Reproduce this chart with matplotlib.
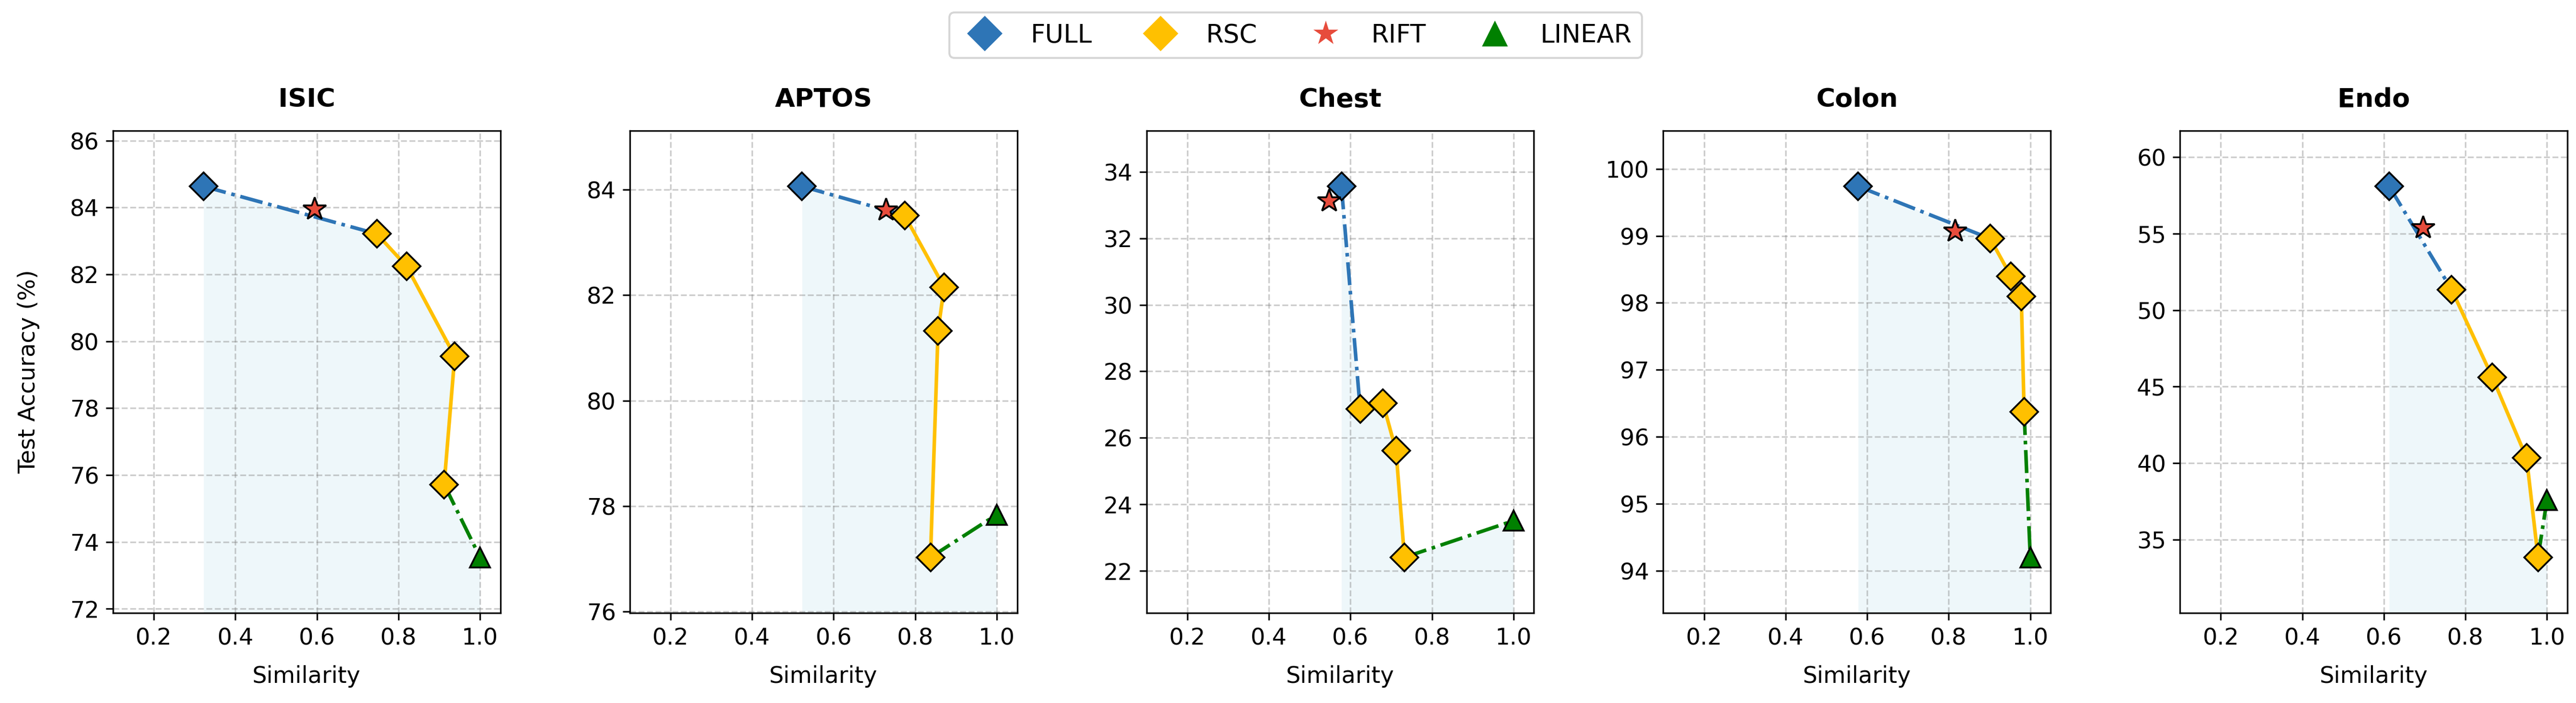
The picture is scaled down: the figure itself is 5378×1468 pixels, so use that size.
import matplotlib
matplotlib.use("Agg")
import matplotlib.pyplot as plt
from matplotlib.lines import Line2D

# values
datasets = ['ISIC', 'APTOS', 'Chest', 'Colon', 'Endo']

full_sim = [0.322, 0.5225, 0.578, 0.578, 0.613]
full_acc = [84.63, 84.06, 33.56, 99.74, 58.09]

rift_sim = [0.595, 0.729, 0.548, 0.816, 0.696]
rift_acc = [83.94, 83.61, 33.11, 99.07, 55.38]

rsc_sim = [[0.747, 0.820, 0.938, 0.912],
           [0.774, 0.871, 0.856, 0.8375],
           [0.624, 0.680, 0.712, 0.7325],
           [0.9017, 0.9525, 0.978, 0.985],
           [0.766, 0.866, 0.950, 0.978]]
rsc_acc = [[83.21, 82.24, 79.55, 75.72],
           [83.51, 82.15, 81.32, 77.03],
           [26.87, 27.04, 25.61, 22.41],
           [98.96, 98.40, 98.10, 96.37],
           [51.35, 45.62, 40.34, 33.85]]

linear_sim = [1.0, 1.0, 1.0, 1.0, 1.0]
linear_acc = [73.54, 77.84, 23.51, 94.20, 37.61]

c_full = '#2E75B6'
c_rsc = '#FFC000'
c_rift = '#E74C3C'
c_lin = 'green'

fig = plt.figure(figsize=(5378 / 300, 1468 / 300), dpi=300)
axes = fig.subplots(1, 5)
fig.subplots_adjust(left=236 / 5378, right=5360 / 5378,
                    bottom=1 - 1280 / 1468, top=1 - 273 / 1468, wspace=0.334)

for i, ax in enumerate(axes):
    xs = [full_sim[i]] + rsc_sim[i] + [linear_sim[i]]
    ys = [full_acc[i]] + rsc_acc[i] + [linear_acc[i]]
    all_y = ys + [rift_acc[i]]
    rng = max(all_y) - min(all_y)
    lo, hi = min(all_y) - 0.15 * rng, max(all_y) + 0.15 * rng

    ax.fill_between(xs, ys, lo, color='lightblue', alpha=0.2, linewidth=0, zorder=1)

    # connecting lines
    ax.plot([full_sim[i], rsc_sim[i][0]], [full_acc[i], rsc_acc[i][0]],
            '-.', color=c_full, lw=1.8, zorder=2)
    ax.plot(rsc_sim[i], rsc_acc[i], '-', color=c_rsc, lw=1.8, zorder=2)
    ax.plot([rsc_sim[i][-1], linear_sim[i]], [rsc_acc[i][-1], linear_acc[i]],
            '-.', color=c_lin, lw=1.8, zorder=2)

    # markers
    ax.plot(full_sim[i], full_acc[i], 'D', color=c_full, ms=10,
            mec='black', mew=0.9, zorder=3)
    ax.plot(rift_sim[i], rift_acc[i], '*', color=c_rift, ms=12,
            mec='black', mew=0.9, zorder=4)
    ax.plot(rsc_sim[i], rsc_acc[i], 'D', color=c_rsc, ms=10, ls='none',
            mec='black', mew=0.9, zorder=5)
    ax.plot(linear_sim[i], linear_acc[i], '^', color=c_lin, ms=10,
            mec='black', mew=0.9, zorder=5)

    ax.set_xlim(0.1, 1.05)
    ax.set_ylim(lo, hi)
    ax.set_xticks([0.2, 0.4, 0.6, 0.8, 1.0])
    ax.tick_params(labelsize=11.5)
    ax.grid(True, linestyle='--', color='gray', alpha=0.4, lw=0.8)
    ax.set_title(datasets[i], fontsize=13, fontweight='bold', pad=12)
    ax.set_xlabel('Similarity', fontsize=11.5, labelpad=8)
    if i == 0:
        ax.set_ylabel('Test Accuracy (%)', fontsize=11.5, labelpad=15)

handles = [
    Line2D([], [], marker='D', color=c_full, ls='none', ms=12.5, mec='none', label='FULL'),
    Line2D([], [], marker='D', color=c_rsc, ls='none', ms=12.5, mec='none', label='RSC'),
    Line2D([], [], marker='*', color=c_rift, ls='none', ms=13, mec='none', label='RIFT'),
    Line2D([], [], marker='^', color=c_lin, ls='none', ms=13, mec='none', label='LINEAR'),
]
fig.legend(handles=handles, loc='upper center', bbox_to_anchor=(0.503, 1.0),
           ncol=4, fontsize=12.7, columnspacing=1.7)

fig.savefig('out.png', dpi=300)
